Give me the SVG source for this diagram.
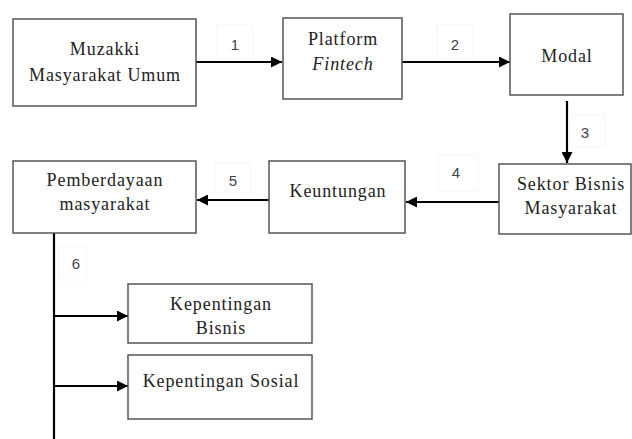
<svg xmlns="http://www.w3.org/2000/svg" width="632" height="439" viewBox="0 0 632 439">
<defs>
<marker id="ah" viewBox="0 0 10 10" refX="10" refY="5" markerWidth="5" markerHeight="5" orient="auto" markerUnits="strokeWidth">
<path d="M0,0 L10,5 L0,10 z" fill="#000"/>
</marker>
<style>
.box{fill:#fff;stroke:#555;stroke-width:1.5}
.t{font-family:"Liberation Serif","Times New Roman",serif;font-size:18px;fill:#222;text-anchor:middle;letter-spacing:0.9px}
.c{stroke:#000;stroke-width:2.2;fill:none}
.lb{fill:#fff;stroke:#f5f5f5;stroke-width:1}
.n{font-family:"Liberation Sans",Arial,sans-serif;font-size:15px;fill:#444;text-anchor:middle}
</style>
</defs>
<rect width="632" height="439" fill="#fff"/>
<g id="connectors">
<line class="c" x1="196" y1="62" x2="282" y2="62" marker-end="url(#ah)"/>
<line class="c" x1="402" y1="62" x2="510" y2="62" marker-end="url(#ah)"/>
<line class="c" x1="567" y1="101" x2="567" y2="163" marker-end="url(#ah)"/>
<line class="c" x1="499" y1="202" x2="406" y2="202" marker-end="url(#ah)"/>
<line class="c" x1="269" y1="200" x2="197" y2="200" marker-end="url(#ah)"/>
<line class="c" x1="54" y1="233" x2="54" y2="439"/>
<line class="c" x1="54" y1="316" x2="128" y2="316" marker-end="url(#ah)"/>
<line class="c" x1="54" y1="386" x2="128" y2="386" marker-end="url(#ah)"/>
<rect class="lb" x="217" y="25" width="36" height="33"/>
<text class="n" x="235" y="50">1</text>
<rect class="lb" x="437" y="25" width="36" height="33"/>
<text class="n" x="455" y="50">2</text>
<rect class="lb" x="569" y="115" width="36" height="32"/>
<text class="n" x="585" y="138">3</text>
<rect class="lb" x="438" y="155" width="40" height="36"/>
<text class="n" x="456" y="178">4</text>
<rect class="lb" x="215" y="163" width="36" height="30"/>
<text class="n" x="233" y="186">5</text>
<rect class="lb" x="59" y="246" width="27" height="34"/>
<text class="n" x="76" y="269">6</text>
</g>
<g id="muzakki">
<rect class="box" x="13" y="19" width="183" height="87"/>
<text class="t" x="105" y="55">Muzakki</text>
<text class="t" x="105" y="81">Masyarakat Umum</text>
</g>
<g id="platform">
<rect class="box" x="283" y="18" width="119" height="81"/>
<text class="t" x="343" y="45">Platform</text>
<text class="t" x="343" y="70" font-style="italic">Fintech</text>
</g>
<g id="modal">
<rect class="box" x="510" y="14" width="113" height="81"/>
<text class="t" x="567" y="62">Modal</text>
</g>
<g id="sektor">
<rect class="box" x="499" y="164" width="132" height="70"/>
<text class="t" x="571" y="190">Sektor Bisnis</text>
<text class="t" x="571" y="214">Masyarakat</text>
</g>
<g id="keuntungan">
<rect class="box" x="269" y="161" width="136" height="72"/>
<text class="t" x="338" y="197">Keuntungan</text>
</g>
<g id="pemberdayaan">
<rect class="box" x="13" y="161" width="183" height="72"/>
<text class="t" x="105" y="186">Pemberdayaan</text>
<text class="t" x="105" y="210">masyarakat</text>
</g>
<g id="bisnis">
<rect class="box" x="128" y="284" width="184" height="59"/>
<text class="t" x="221" y="310">Kepentingan</text>
<text class="t" x="221" y="334">Bisnis</text>
</g>
<g id="sosial">
<rect class="box" x="128" y="355" width="184" height="64"/>
<text class="t" x="221" y="387">Kepentingan Sosial</text>
</g>
</svg>
